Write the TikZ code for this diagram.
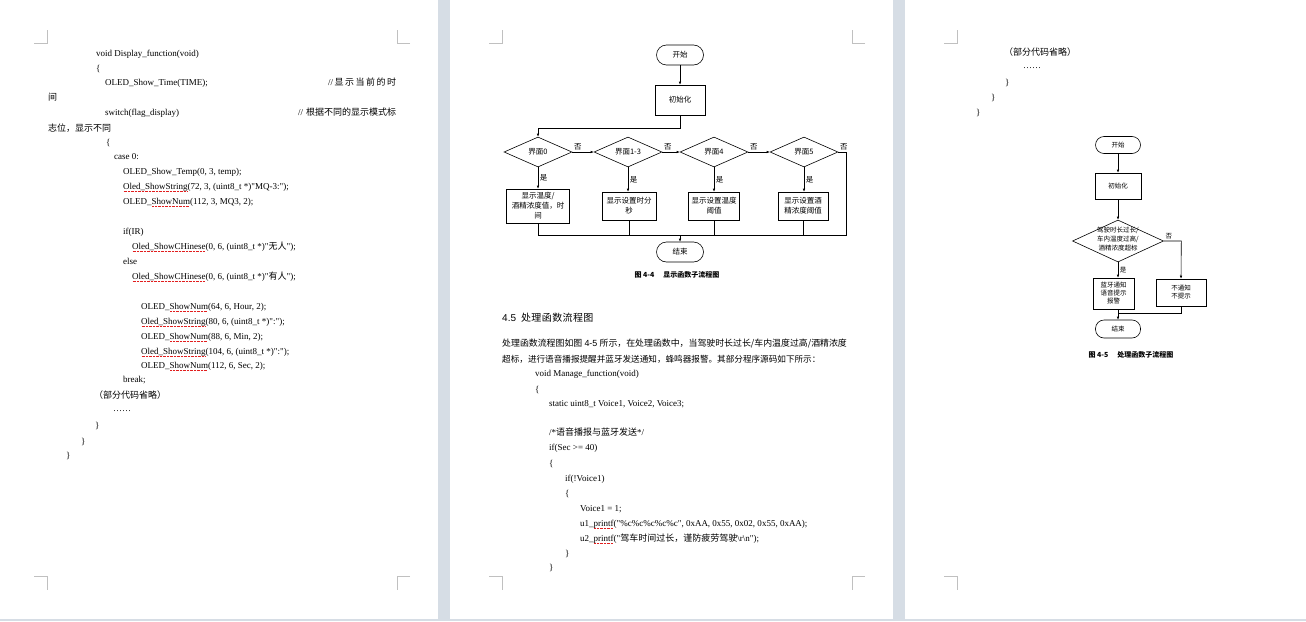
\documentclass[tikz,border=0pt]{standalone}
\usepackage{fontspec}
\setmainfont{Liberation Serif}[Ligatures=TeXOff]
\newfontfamily\cjk{Noto Sans CJK SC}
\newfontfamily\hei{Liberation Sans}
\usetikzlibrary{shapes.geometric,arrows.meta}

\definecolor{gapgray}{RGB}{214,221,229}
\definecolor{markgray}{RGB}{192,192,192}
\definecolor{squigred}{RGB}{225,30,30}

\newlength\squigwd
\newcommand\squig[1]{\settowidth{\squigwd}{#1}%
  \rlap{\textcolor{squigred}{\raisebox{-2.6pt}{\hbox to\squigwd{\leaders\hbox to 1.4pt{\hss\vrule width 0.7pt height 0.6pt\hss}\hfill}}}}#1}
\newcommand\flattext[1]{\smash{\makebox[0pt]{\begin{tabular}{@{}c@{}}#1\end{tabular}}}}

\tikzset{
  code/.style={anchor=base west, inner sep=0pt, font=\fontsize{9}{11}\selectfont},
  cropmark/.style={draw=markgray, line width=0.8pt},
  flow/.style={draw, line width=0.6pt, align=center, inner sep=1pt, font=\cjk\fontsize{7.5}{10}\selectfont},
  term/.style={flow, rectangle, rounded corners=10pt, minimum width=47pt, minimum height=20pt},
  proc/.style={flow, rectangle, minimum height=28pt},
  dec/.style={flow, diamond, aspect=2.3, minimum width=68pt, minimum height=30pt, inner sep=0pt},
  flowsm/.style={draw, line width=0.6pt, align=center, inner sep=1pt, font=\cjk\fontsize{6.5}{8}\selectfont},
  termsm/.style={flowsm, rectangle, rounded corners=8.5pt, minimum width=45pt, minimum height=17pt},
  procsm/.style={flowsm, rectangle},
  decsm/.style={draw, line width=0.6pt, diamond, inner sep=0pt, minimum width=91pt, minimum height=42pt, font=\cjk\fontsize{6.5}{9}\selectfont},
  conn/.style={line width=0.6pt},
  arr/.style={conn, -{Latex[length=3pt,width=2.6pt]}},
  yn/.style={inner sep=1.5pt, font=\cjk\fontsize{7.5}{9}\selectfont},
  ynsm/.style={inner sep=1.5pt, font=\cjk\fontsize{6.5}{8}\selectfont},
  caption/.style={inner sep=0pt, font=\cjk\bfseries\fontsize{7}{8}\selectfont}
}

\begin{document}
\begin{tikzpicture}[x=1pt, y=-1pt]
    \useasboundingbox (0,0) rectangle (1306,621);
    % pages
    \fill [gapgray] (0,0) rectangle (1306,621);
    \fill [white] (0,0) rectangle (438,619);
    \fill [white] (450,0) rectangle (893,619);
    \fill [white] (905,0) rectangle (1306,619);
    \foreach \l in {47, 502, 957} {
        \draw [cropmark] (\l-13,43) -- (\l,43) -- (\l,30);
        \draw [cropmark] (\l-13,576) -- (\l,576) -- (\l,590);
    }
    \foreach \r in {397, 852} {
        \draw [cropmark] (\r+13,43) -- (\r,43) -- (\r,30);
        \draw [cropmark] (\r+13,576) -- (\r,576) -- (\r,590);
    }

    % page 1: code
    \node [code] (l1) at (96,56) {void Display\_function(void)};
    \node [code] (l2) at (96,71) {\{};
    \node [code] (l3) at (105,85) {OLED\_Show\_Time(TIME);};
    \node [code] (l3c) at (328,85) {\makebox[68pt][s]{//\hfil{\cjk 显}\hfil{\cjk 示}\hfil{\cjk 当}\hfil{\cjk 前}\hfil{\cjk 的}\hfil{\cjk 时}}};
    \node [code] (l4) at (48,100) {\cjk 间};
    \node [code] (l5) at (105,115) {switch(flag\_display)};
    \node [code] (l5c) at (298,115) {\makebox[98pt][s]{//\hfil{\cjk 根据不同的显示模式标}}};
    \node [code] (l6) at (48,131) {\cjk 志位，显示不同};
    \node [code] (l7) at (106,145) {\{};
    \node [code] (l8) at (114,159) {case 0:};
    \node [code] (l9) at (123,174) {OLED\_Show\_Temp(0, 3, temp);};
    \node [code] (l10) at (123,189) {\squig{Oled\_ShowString}(72, 3, (uint8\_t *)"MQ-3:");};
    \node [code] (l11) at (123,204) {OLED\_\squig{ShowNum}(112, 3, MQ3, 2);};
    \node [code] (l12) at (123,234) {if(IR)};
    \node [code] (l13) at (132,249) {\squig{Oled\_ShowCHinese}(0, 6, (uint8\_t *)"{\cjk 无人}");};
    \node [code] (l14) at (123,264) {else};
    \node [code] (l15) at (132,279) {\squig{Oled\_ShowCHinese}(0, 6, (uint8\_t *)"{\cjk 有人}");};
    \node [code] (l16) at (141,309) {OLED\_\squig{ShowNum}(64, 6, Hour, 2);};
    \node [code] (l17) at (141,324) {\squig{Oled\_ShowString}(80, 6, (uint8\_t *)":");};
    \node [code] (l18) at (141,339) {OLED\_\squig{ShowNum}(88, 6, Min, 2);};
    \node [code] (l19) at (141,354) {\squig{Oled\_ShowString}(104, 6, (uint8\_t *)":");};
    \node [code] (l20) at (141,368) {OLED\_\squig{ShowNum}(112, 6, Sec, 2);};
    \node [code] (l21) at (123,382) {break;};
    \node [code] (l22) at (94,398) {\cjk （部分代码省略）};
    \node [code] (l23) at (113,411) {\ldots\ldots};
    \node [code] (l24) at (95,428) {\}};
    \node [code] (l25) at (81,444) {\}};
    \node [code] (l26) at (66,458) {\}};

    % page 2: flowchart 4-4
    \node [term] (st) at (680,55) {开始};
    \node [proc, minimum width=50pt, minimum height=30pt] (ini) at (680,100) {初始化};
    \node [dec] (d0) at (538,152) {界面0};
    \node [dec] (d1) at (628,152) {界面1-3};
    \node [dec] (d2) at (714,152) {界面4};
    \node [dec] (d3) at (804,152) {界面5};
    \node [proc, minimum width=63pt, minimum height=34pt] (b0) at (538,206) {显示温度/\\酒精浓度值，时\\间};
    \node [proc, minimum width=54pt] (b1) at (629,206) {显示设置时分\\秒};
    \node [proc, minimum width=51pt] (b2) at (714,206) {显示设置温度\\阈值};
    \node [proc, minimum width=50pt] (b3) at (803,206) {显示设置酒\\精浓度阈值};
    \node [term] (en) at (680,252) {结束};
    \coordinate (mg) at (680,235);
    \draw [arr] (st) -- (ini);
    \draw [arr] (ini.south) -- ++(0,13) -| (d0.north);
    \draw [arr] (d0) -- node [pos=0, yn, above right] {否} (d1);
    \draw [arr] (d1) -- node [pos=0, yn, above right] {否} (d2);
    \draw [arr] (d2) -- node [pos=0, yn, above right] {否} (d3);
    \draw [conn] (d3.east) -- node [pos=0, yn, above right] {否} ++(8,0) |- (mg);
    \foreach \i in {0,...,3} {
        \draw [arr] (d\i.south) -- node [yn, right] {是} (d\i.south |- b\i.north);
        \draw [conn] (b\i.south) |- (mg);
    }
    \draw [arr] (mg) -- (en);
    \node [caption] (cap1) at (677,275) {图 4-4\hspace{9pt}显示函数子流程图};

    % page 2: text and code
    \node [code, font=\fontsize{10}{12}\selectfont] (h45) at (502,321) {{\hei 4.5}\hspace{5pt}{\cjk 处\hspace{0.4pt}理\hspace{0.4pt}函\hspace{0.4pt}数\hspace{0.4pt}流\hspace{0.4pt}程\hspace{0.4pt}图}};
    \node [code, font=\fontsize{8.9}{10}\selectfont] (p1) at (502,346) {{\cjk 处理函数流程图如图}\ {\hei 4-5}\ {\cjk 所示，在处理函数中，当驾驶时长过长/车内温度过高/酒精浓度}};
    \node [code, font=\fontsize{8.6}{10}\selectfont] (p2) at (502,362) {\cjk 超标，进行语音播报提醒并蓝牙发送通知，蜂鸣器报警。其部分程序源码如下所示：};
    \node [code] (m1) at (535,376) {void Manage\_function(void)};
    \node [code] (m2) at (535,392) {\{};
    \node [code] (m3) at (549,406) {static uint8\_t Voice1, Voice2, Voice3;};
    \node [code] (m4) at (549,435) {/*{\cjk 语音播报与蓝牙发送}*/};
    \node [code] (m5) at (549,450) {if(Sec >= 40)};
    \node [code] (m6) at (549,466) {\{};
    \node [code] (m7) at (565,481) {if(!Voice1)};
    \node [code] (m8) at (565,496) {\{};
    \node [code] (m9) at (580,511) {Voice1 = 1;};
    \node [code] (m10) at (580,526) {u1\_\squig{printf}("\%c\%c\%c\%c\%c", 0xAA, 0x55, 0x02, 0x55, 0xAA);};
    \node [code] (m11) at (580,541) {u2\_\squig{printf}("{\cjk 驾车时间过长，谨防疲劳驾驶}\textbackslash r\textbackslash n");};
    \node [code] (m12) at (565,556) {\}};
    \node [code] (m13) at (549,570) {\}};

    % page 3: code end
    \node [code] (r1) at (1004,55) {\cjk （部分代码省略）};
    \node [code] (r2) at (1023,68) {\ldots\ldots};
    \node [code] (r3) at (1005,85) {\}};
    \node [code] (r4) at (991,100) {\}};
    \node [code] (r5) at (976,115) {\}};

    % page 3: flowchart 4-5
    \node [termsm] (st3) at (1118,145) {开始};
    \node [procsm, minimum width=46pt, minimum height=26pt] (ini3) at (1118,186) {初始化};
    \node [decsm] (dd) at (1118,241) {\flattext{驾驶时长过长/\\车内温度过高/\\酒精浓度超标}};
    \node [procsm, minimum width=41pt, minimum height=31pt] (y3) at (1113.5,293.5) {蓝牙通知\\语音提示\\报警};
    \node [procsm, minimum width=50pt, minimum height=27pt] (n3) at (1181,292.5) {不通知\\不提示};
    \node [termsm, minimum height=18pt] (en3) at (1118,329) {结束};
    \coordinate (mg3) at (1118,313);
    \draw [arr] (st3) -- (ini3);
    \draw [arr] (ini3) -- (dd);
    \draw [arr] (dd.south) -- node [ynsm, right] {是} (dd.south |- y3.north);
    \draw [arr] (dd.east) -- node [pos=0, ynsm, above right] {否} ++(17.5,0) -- (n3.north);
    \draw [conn] (n3.south) |- (mg3);
    \draw [arr] (y3.south -| en3) -- (en3);
    \node [caption] (cap2) at (1131,355) {图 4-5\hspace{9pt}处理函数子流程图};
\end{tikzpicture}
\end{document}
